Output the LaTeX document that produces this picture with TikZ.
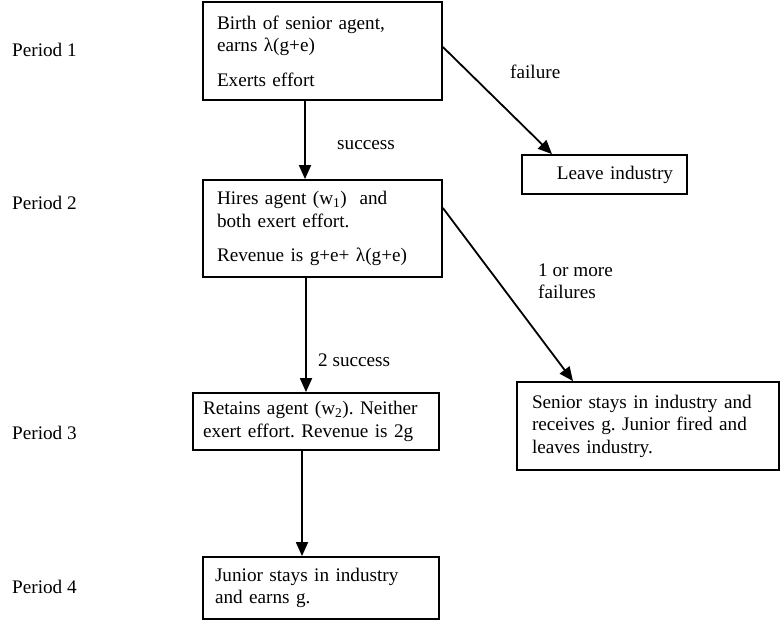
\documentclass[tikz,border=0pt]{standalone}
\usepackage{fontspec}
\setmainfont{Liberation Serif}
\usetikzlibrary{arrows.meta}

\tikzset{
  box/.style={draw, line width=1.8pt, inner ysep=0pt, align=left},
  arr/.style={line width=1.8pt, -{Triangle[length=14pt,width=12pt]}},
  lbl/.style={anchor=west, inner sep=0pt}
}

\begin{document}
\frenchspacing
\begin{tikzpicture}[x=1pt,y=-1pt, every node/.style={font=\fontsize{19.2}{22.5}\selectfont}]
        \useasboundingbox (0,0) rectangle (780,625);
        % periods
        \node[lbl] (per1) at (12,50) {Period 1};
        \node[lbl] (per2) at (12,203) {Period 2};
        \node[lbl] (per3) at (12,433) {Period 3};
        \node[lbl] (per4) at (12,587) {Period 4};
        % boxes
        \node[box, inner xsep=14pt, minimum width=239pt, minimum height=98pt, text width=211pt] (birth) at (322.5,51)
          {Birth of senior agent,\\ earns λ(g+e)\\[12pt] Exerts effort};
        \node[box, inner xsep=14pt, minimum width=239pt, minimum height=97pt, text width=211pt] (hires) at (322.5,228.5)
          {Hires agent (w\textsubscript{1})\ \ and\\ both exert effort.\\[12pt] Revenue is g+e+ λ(g+e)};
        \node[box, inner xsep=10pt, minimum width=246pt, minimum height=57pt, text width=226pt] (retain) at (316,421.5)
          {Retains agent (w\textsubscript{2}). Neither\\ exert effort. Revenue is 2g};
        \node[box, inner xsep=12pt, minimum width=236pt, minimum height=62pt, text width=212pt] (junior) at (321,588)
          {Junior stays in industry\\ and earns g.};
        \node[box, inner xsep=14pt, minimum width=165pt, minimum height=39pt, text width=137pt, align=right] (leave) at (604.5,174.5)
          {Leave industry};
        \node[box, inner xsep=15pt, minimum width=262pt, minimum height=88pt, text width=232pt] (senior) at (648,426)
          {Senior stays in industry and\\ receives g. Junior fired and\\ leaves industry.};
        % arrows
        \draw[arr] ([xshift=-17.5pt]birth.south) -- ([xshift=-17.5pt]hires.north);
        \draw[arr] ([xshift=-16.5pt]hires.south) -- ([xshift=-10pt]retain.north);
        \draw[arr] ([xshift=-14pt]retain.south) -- ([xshift=-19pt]junior.north);
        \draw[arr] ([yshift=4pt]birth.east) -- ([xshift=-52.5pt]leave.north);
        \draw[arr] ([yshift=20.5pt]hires.east) -- ([xshift=-75pt]senior.north);
        % labels
        \node[lbl] (succ) at (337,145) {success};
        \node[lbl] (fail) at (510,72) {failure};
        \node[lbl] (succtwo) at (318,360) {2 success};
        \node[lbl, align=left] (fails) at (538,281) {1 or more\\ failures};
\end{tikzpicture}
\end{document}
